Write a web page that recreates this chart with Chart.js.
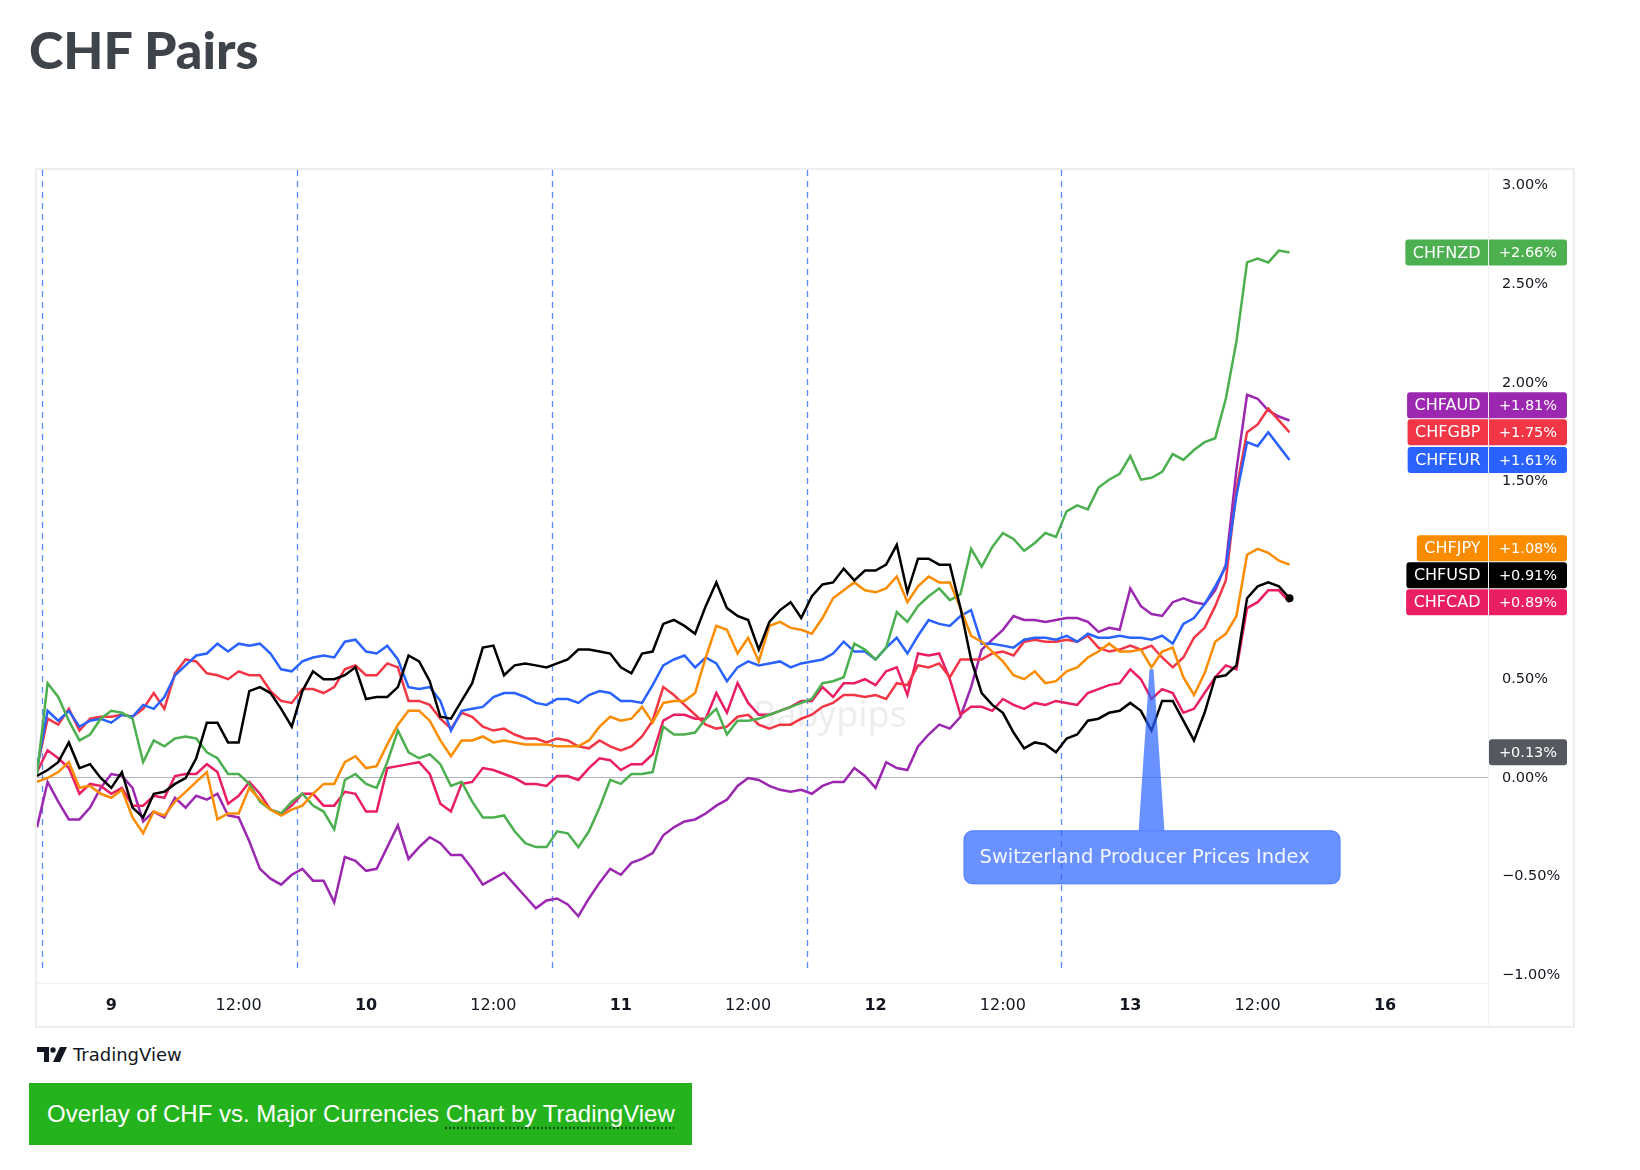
<!DOCTYPE html>
<html lang="en">
<head>
<meta charset="utf-8">
<title>CHF Pairs</title>
<script src="https://cdn.jsdelivr.net/npm/chart.js@4.4.1/dist/chart.umd.min.js"></script>
<style>
    body { margin: 0; background: #fff; }
    h1 {
        position: absolute; left: 29px; top: 23px; margin: 0;
        font: 900 52px/52px Lato, "Noto Sans", sans-serif;
        color: #3f434a;
    }
    #frame {
        position: absolute; left: 35px; top: 168px;
        width: 1536px; height: 856px;
        border: 2px solid #eceef2;
    }
    #wrap { position: absolute; left: 37px; top: 170px; width: 1534px; height: 856px; }
    #tv {
        position: absolute; left: 37px; top: 1044px; height: 20px;
        font: 18px "DejaVu Sans", sans-serif; color: #131722;
        display: flex; align-items: center;
    }
    #tv svg { margin-right: 6px; }
    #link {
        position: absolute; left: 29px; top: 1083px; width: 645px; height: 62px;
        padding-left: 18px; background: #25b31d; color: #fff;
        font: 24px/62px "Liberation Sans", Arial, sans-serif;
    }
    #link span { text-decoration: underline dotted rgba(0,0,0,0.55); text-underline-offset: 5px; }
</style>
</head>
<body>

<h1>CHF Pairs</h1>
<div id="frame"></div>
<div id="wrap"><canvas id="chartchf"></canvas></div>
<div id="tv">
    <svg width="30" height="15" viewBox="0 0 30 15">
        <path d="M0 0H12V15H7V5H0Z" fill="#131722"/>
        <circle cx="16" cy="3" r="2.7" fill="#131722"/>
        <path d="M23 0H30L23 15H16Z" fill="#131722"/>
    </svg>
    <span>TradingView</span>
</div>
<div id="link">Overlay of CHF vs. Major Currencies <span>Chart by TradingView</span></div>

<script>
// DATOS - % change per hourly bar (bar 0 = start of chart)

const chfNzd = [0.02,
    0.48, 0.41, 0.29, 0.19, 0.22, 0.30, 0.34, 0.33, 0.30, 0.08, 0.19, 0.16, 0.20, 0.21, 0.20, 0.13,
    0.10, 0.02, 0.02, -0.03, -0.12, -0.16, -0.18, -0.12, -0.08, -0.14, -0.17, -0.26, -0.01, 0.02,
    -0.03, -0.05, 0.08, 0.24, 0.13, 0.10, 0.12, 0.07, -0.04, -0.02, -0.12, -0.20, -0.20, -0.19,
    -0.27, -0.33, -0.35, -0.35, -0.27,
    -0.28, -0.35, -0.27, -0.15, -0.01, -0.03, 0.02, 0.02, 0.03, 0.26, 0.22, 0.22, 0.23, 0.30, 0.35,
    0.22, 0.29, 0.29, 0.30, 0.32, 0.34, 0.36, 0.38, 0.40, 0.48, 0.49, 0.51, 0.68, 0.65, 0.60,
    0.66, 0.84, 0.79, 0.87, 0.92, 0.96, 0.90, 0.93, 1.16, 1.07, 1.17, 1.24, 1.21, 1.15, 1.19, 1.24,
    1.22, 1.35, 1.38, 1.36,
    1.47, 1.51, 1.54, 1.63, 1.51, 1.52, 1.55, 1.64, 1.61, 1.66, 1.70, 1.72, 1.92, 2.21, 2.61, 2.63,
    2.61, 2.67, 2.66];

const chfAud = [-0.25,
    -0.02, -0.12, -0.21, -0.21, -0.15, -0.05, 0.02, 0.01, -0.05, -0.22, -0.17, -0.20, -0.10, -0.15,
    -0.09, -0.11, -0.08, -0.19, -0.20, -0.32, -0.46, -0.51, -0.54, -0.49, -0.46, -0.52, -0.52, -0.63,
    -0.40, -0.42, -0.47, -0.46, -0.35, -0.24, -0.41, -0.35, -0.30, -0.33, -0.39, -0.39, -0.46, -0.54,
    -0.51, -0.48, -0.54, -0.60,
    -0.66, -0.62, -0.61, -0.64, -0.70, -0.61, -0.53, -0.46, -0.49, -0.43, -0.41, -0.38, -0.29, -0.25,
    -0.22, -0.21, -0.18, -0.14, -0.11, -0.04, 0.00, -0.01, -0.04, -0.06, -0.07, -0.06, -0.08, -0.04,
    -0.02, -0.02, 0.05, 0.01, -0.05,
    0.08, 0.05, 0.04, 0.16, 0.22, 0.27, 0.25, 0.31, 0.46, 0.65, 0.70, 0.75, 0.82, 0.80, 0.80, 0.79,
    0.80, 0.81, 0.81, 0.79, 0.74, 0.76,
    0.75, 0.96, 0.87, 0.83, 0.82, 0.89, 0.91, 0.89, 0.88, 0.95, 1.08,
    1.56, 1.94, 1.92, 1.86, 1.83, 1.81];

const chfGbp = [0.05,
    0.30, 0.27, 0.35, 0.24, 0.30, 0.31, 0.31, 0.32, 0.31, 0.35, 0.43, 0.35, 0.53, 0.60, 0.59, 0.53,
    0.52, 0.50, 0.54, 0.52, 0.52, 0.44, 0.39, 0.38, 0.45, 0.45, 0.43, 0.46, 0.55, 0.57, 0.52, 0.52,
    0.58, 0.56, 0.39, 0.39, 0.37, 0.30, 0.25, 0.33, 0.31, 0.26, 0.24, 0.25, 0.22, 0.20,
    0.20, 0.18, 0.20,
    0.19, 0.16, 0.15, 0.19, 0.16, 0.14, 0.16, 0.21, 0.29, 0.46, 0.42, 0.37, 0.32, 0.27, 0.25, 0.26,
    0.31, 0.32, 0.27, 0.25, 0.27, 0.27, 0.30, 0.32, 0.36, 0.38, 0.42, 0.42, 0.41, 0.42,
    0.40, 0.48, 0.47, 0.57, 0.56, 0.58, 0.51, 0.60, 0.60, 0.60, 0.63, 0.64, 0.62, 0.69, 0.70, 0.69,
    0.69, 0.70, 0.69, 0.72, 0.66, 0.64,
    0.65, 0.67, 0.65, 0.67, 0.61, 0.56, 0.61, 0.71, 0.76, 0.87, 1.00,
    1.46, 1.75, 1.79, 1.87, 1.81, 1.75];

const chfEur = [0.05,
    0.34, 0.29, 0.34, 0.26, 0.29, 0.30, 0.28, 0.32, 0.31, 0.37, 0.35, 0.41, 0.52, 0.57, 0.62, 0.63,
    0.68, 0.64, 0.68, 0.67, 0.68, 0.63, 0.55, 0.54, 0.59, 0.61, 0.62, 0.61, 0.69, 0.70, 0.64, 0.63,
    0.67, 0.60, 0.46, 0.45, 0.46, 0.39, 0.24, 0.34, 0.35, 0.36, 0.41, 0.43, 0.43, 0.41,
    0.38, 0.37, 0.40, 0.40, 0.38, 0.42, 0.44, 0.43, 0.39, 0.39, 0.38, 0.47, 0.57, 0.60, 0.62, 0.56,
    0.61, 0.58, 0.49, 0.56, 0.59, 0.57, 0.58, 0.59, 0.56, 0.58, 0.59, 0.60, 0.63, 0.69, 0.64, 0.64,
    0.60,
    0.66, 0.71, 0.63, 0.72, 0.80, 0.78, 0.77, 0.82, 0.85, 0.68, 0.68, 0.67, 0.66, 0.70, 0.71, 0.71,
    0.70, 0.72, 0.69, 0.73, 0.71, 0.71, 0.72, 0.71,
    0.71, 0.70, 0.72, 0.68, 0.78, 0.81, 0.88, 0.97, 1.07,
    1.43, 1.70, 1.68, 1.75, 1.68, 1.61];

const chfJpy = [-0.02,
    0.00, 0.03, 0.08, -0.05, -0.04, -0.08, -0.10, -0.06, -0.20, -0.28, -0.17, -0.19, -0.12, -0.07,
    -0.02, 0.03, -0.21, -0.18, -0.18, -0.05, -0.11, -0.16, -0.19, -0.16, -0.14, -0.08, -0.03, -0.03,
    0.08, 0.11, 0.05, 0.06, 0.17, 0.27, 0.34, 0.34, 0.29, 0.19, 0.11, 0.19, 0.19, 0.21, 0.18, 0.19,
    0.18, 0.17,
    0.17, 0.17, 0.16,
    0.16, 0.16, 0.19, 0.26, 0.31, 0.29, 0.30, 0.36, 0.28, 0.38, 0.39, 0.39, 0.43, 0.61, 0.77, 0.75,
    0.63, 0.71, 0.59, 0.77, 0.79, 0.76, 0.75, 0.73, 0.81, 0.91, 0.95, 0.99, 0.95, 0.94,
    0.96, 1.02, 0.89, 0.97, 1.02, 0.99, 0.99, 0.86, 0.72, 0.69, 0.64, 0.59, 0.52, 0.50, 0.54, 0.48,
    0.49, 0.54, 0.56, 0.61, 0.64, 0.68,
    0.64, 0.64, 0.65, 0.56, 0.64, 0.66, 0.51, 0.42, 0.53, 0.69, 0.73, 0.82, 1.13, 1.16, 1.14, 1.10,
    1.08];

const chfUsd = [0.01,
    0.04, 0.08, 0.18, 0.05, 0.07, 0.00, -0.05, 0.03, -0.15, -0.20, -0.08, -0.07, -0.03, 0.00, 0.10,
    0.28, 0.28, 0.18, 0.18, 0.44, 0.46, 0.43, 0.35, 0.26, 0.44, 0.54, 0.50, 0.50, 0.52, 0.56, 0.40,
    0.41, 0.41, 0.46, 0.62, 0.59, 0.49, 0.31, 0.30, 0.39, 0.48, 0.66, 0.67, 0.52, 0.57, 0.58,
    0.57, 0.56, 0.58,
    0.60, 0.65, 0.65, 0.64, 0.63, 0.56, 0.53, 0.63, 0.64, 0.78, 0.80, 0.77, 0.73, 0.87, 0.99, 0.86,
    0.82, 0.80, 0.65, 0.79, 0.85, 0.89, 0.81, 0.92, 0.98, 0.99, 1.06, 1.00, 1.05, 1.05,
    1.08, 1.18, 0.94, 1.11, 1.11, 1.08, 1.08, 0.86, 0.60, 0.43, 0.37, 0.33, 0.23, 0.15, 0.18, 0.17,
    0.13, 0.20, 0.22, 0.29, 0.30, 0.33,
    0.34, 0.38, 0.34, 0.24, 0.39, 0.39, 0.29, 0.19, 0.33, 0.51, 0.52, 0.57, 0.91, 0.97, 0.99, 0.97,
    0.91];

const chfCad = [0.03,
    0.14, 0.10, 0.05, -0.08, -0.03, -0.04, -0.08, -0.05, -0.14, -0.14, -0.09, -0.10, 0.01, 0.02, 0.02,
    0.07, 0.03, -0.13, -0.09, -0.02, -0.08, -0.16, -0.18, -0.14, -0.08, -0.08, -0.14, -0.14, -0.07,
    -0.08, -0.17, -0.17, 0.05, 0.06, 0.07, 0.08, 0.02, -0.13, -0.17, -0.03, -0.02, 0.05, 0.04, 0.02,
    0.00, -0.03,
    -0.03, -0.04, 0.01,
    0.01, -0.01, 0.05, 0.10, 0.09, 0.04, 0.07, 0.07, 0.12, 0.29, 0.32, 0.32, 0.30, 0.30, 0.43, 0.33,
    0.48, 0.38, 0.32, 0.32, 0.34, 0.36, 0.39, 0.39, 0.46, 0.41, 0.48, 0.48, 0.50, 0.47,
    0.54, 0.56, 0.42, 0.63, 0.62, 0.63, 0.50, 0.32, 0.36, 0.36, 0.34, 0.40, 0.37, 0.35, 0.38, 0.37,
    0.39, 0.38, 0.37, 0.43, 0.45, 0.47,
    0.48, 0.55, 0.50, 0.40, 0.45, 0.43, 0.33, 0.35, 0.43, 0.51, 0.57, 0.55, 0.86, 0.89, 0.95, 0.95,
    0.89];

// time axis (bar index of each label) and price axis ticks
const tickBars = [7, 19, 31, 43, 55, 67, 79, 91, 103, 115, 127];
const tickLabels = ['9', '12:00', '10', '12:00', '11', '12:00', '12', '12:00', '13', '12:00', '16'];
const yTicks = [-1, -0.5, 0, 0.5, 1, 1.5, 2, 2.5, 3];

const sessionBreaks = [0.5, 24.5, 48.5, 72.5, 96.5];
const markerValue = 0.13;

const eventName = 'Switzerland Producer Prices Index';
const eventBar = 105;
const eventValue = 0.55;


// SERIES

const series = [
    { name: 'CHFUSD', color: '#000000', data: chfUsd },
    { name: 'CHFJPY', color: '#fb8c00', data: chfJpy },
    { name: 'CHFNZD', color: '#4caf50', data: chfNzd },
    { name: 'CHFEUR', color: '#2962ff', data: chfEur },
    { name: 'CHFGBP', color: '#f23645', data: chfGbp },
    { name: 'CHFCAD', color: '#e91e63', data: chfCad },
    { name: 'CHFAUD', color: '#9c27b0', data: chfAud }
];

function pct(v) {
    return (v < 0 ? '\u2212' : '') + Math.abs(v).toFixed(2) + '%';
}

function signed(v) {
    return (v < 0 ? '\u2212' : '+') + Math.abs(v).toFixed(2) + '%';
}


// EXTRAS - watermark, session lines, event note, price labels

const extras = {
    id: 'extras',
    beforeDatasetsDraw(chart) {
        const { ctx, chartArea, scales: { x, y } } = chart;
        ctx.save();
        ctx.font = '36px "Noto Sans"';
        ctx.fillStyle = 'rgba(0, 0, 0, 0.07)';
        ctx.textAlign = 'center';
        ctx.textBaseline = 'middle';
        ctx.fillText('Babypips', x.getPixelForValue(74.7), y.getPixelForValue(0.31));

        ctx.strokeStyle = 'rgba(41, 98, 255, 0.75)';
        ctx.lineWidth = 1.3;
        ctx.setLineDash([6, 5]);
        sessionBreaks.forEach(b => {
            const px = Math.round(x.getPixelForValue(b)) + 0.5;
            ctx.beginPath();
            ctx.moveTo(px, chartArea.top);
            ctx.lineTo(px, chartArea.bottom - 10);
            ctx.stroke();
        });
        ctx.restore();
    },
    afterDatasetsDraw(chart) {
        const { ctx, scales: { x, y } } = chart;
        const tx = x.getPixelForValue(eventBar);
        const ty = y.getPixelForValue(eventValue);
        const top = ty + 161, w = 377, h = 54, left = tx - 188;

        ctx.save();
        ctx.beginPath();
        ctx.moveTo(tx - 2, ty);
        ctx.lineTo(tx + 2, ty);
        ctx.lineTo(tx + 13, top + 2);
        ctx.lineTo(tx - 13, top + 2);
        ctx.closePath();
        ctx.roundRect(left, top, w, h, 9);
        ctx.fillStyle = 'rgba(41, 98, 255, 0.7)';
        ctx.fill();
        ctx.beginPath();
        ctx.roundRect(left + 0.5, top + 0.5, w - 1, h - 1, 9);
        ctx.strokeStyle = 'rgba(41, 98, 255, 0.35)';
        ctx.stroke();

        ctx.font = '19.5px "DejaVu Sans"';
        ctx.fillStyle = 'rgba(255, 255, 255, 0.92)';
        ctx.textBaseline = 'middle';
        ctx.fillText(eventName, left + 16, top + h / 2 + 1);
        ctx.restore();
    },
    afterDraw(chart) {
        const { ctx, chartArea, scales: { y } } = chart;
        const axisX = chartArea.right;

        ctx.save();
        ctx.fillStyle = '#eef0f4';
        ctx.fillRect(axisX, 0, 1, chart.height);
        ctx.fillRect(0, chartArea.bottom, axisX, 1);

        // stack the last-value labels so they do not overlap
        const items = series.map(s => {
            const last = s.data[s.data.length - 1];
            return { name: s.name, color: s.color, value: last, py: y.getPixelForValue(last) };
        });
        items.sort((a, b) => b.py - a.py);
        let prev = Infinity;
        items.forEach(it => {
            it.ly = Math.min(it.py, prev - 27);
            prev = it.ly;
        });

        ctx.textBaseline = 'middle';
        ctx.textAlign = 'center';
        items.forEach(it => {
            ctx.font = '16px "DejaVu Sans"';
            const tw = ctx.measureText(it.name).width + 15;
            ctx.fillStyle = it.color;
            ctx.beginPath();
            ctx.roundRect(axisX - tw, it.ly - 13, tw, 26, [3, 0, 0, 3]);
            ctx.fill();
            ctx.beginPath();
            ctx.roundRect(axisX + 1, it.ly - 13, 78, 26, [0, 3, 3, 0]);
            ctx.fill();
            ctx.fillStyle = '#ffffff';
            ctx.fillText(it.name, axisX - tw / 2, it.ly + 1);
            ctx.font = '14.5px "DejaVu Sans"';
            ctx.fillText(signed(it.value), axisX + 40, it.ly + 1);
        });

        const my = y.getPixelForValue(markerValue);
        ctx.fillStyle = '#55585f';
        ctx.beginPath();
        ctx.roundRect(axisX + 1, my - 13, 78, 26, 3);
        ctx.fill();
        ctx.fillStyle = '#ffffff';
        ctx.font = '14.5px "DejaVu Sans"';
        ctx.fillText(signed(markerValue), axisX + 40, my + 1);
        ctx.restore();
    }
};


// GRAFICO

document.addEventListener("DOMContentLoaded", () => {

    const ctxChf = document.getElementById('chartchf').getContext('2d');

    new Chart(ctxChf, {
        type: 'line',
        data: {
            datasets: series.map(s => ({
                label: s.name,
                data: s.data.map((v, i) => ({ x: i, y: v })),
                borderColor: s.color,
                backgroundColor: s.color,
                borderWidth: 2.5,
                tension: 0,
                pointRadius: c => (s.name === 'CHFUSD' && c.dataIndex === s.data.length - 1) ? 4 : 0,
                pointBorderWidth: 0
            }))
        },
        options: {
            responsive: true,
            maintainAspectRatio: false,
            animation: false,
            layout: { padding: 0, autoPadding: false },
            plugins: {
                legend: { display: false },
                tooltip: { enabled: false }
            },
            scales: {
                x: {
                    type: 'linear',
                    min: 0,
                    max: 136.7,
                    grid: { display: false, drawTicks: false },
                    border: { display: false },
                    afterBuildTicks: scale => { scale.ticks = tickBars.map(v => ({ value: v })); },
                    afterFit: scale => { scale.height = 43; scale.paddingLeft = 0; scale.paddingRight = 0; },
                    ticks: {
                        autoSkip: false,
                        maxRotation: 0,
                        padding: 13,
                        color: '#131722',
                        font: c => ({
                            family: 'DejaVu Sans',
                            size: 16,
                            weight: (tickLabels[c.index] || '').includes(':') ? 'normal' : 'bold'
                        }),
                        callback: (value, index) => tickLabels[index]
                    }
                },
                y: {
                    position: 'right',
                    min: -1.038,
                    max: 3.078,
                    grid: {
                        drawTicks: false,
                        color: c => c.tick && c.tick.value === 0 ? '#b2b5be' : 'transparent',
                        lineWidth: 1
                    },
                    border: { display: false },
                    afterBuildTicks: scale => { scale.ticks = yTicks.map(v => ({ value: v })); },
                    afterFit: scale => { scale.width = 83; scale.paddingTop = 0; scale.paddingBottom = 0; },
                    ticks: {
                        padding: 14,
                        color: '#131722',
                        font: { family: 'DejaVu Sans', size: 14.5 },
                        callback: v => pct(v)
                    }
                }
            }
        },
        plugins: [extras]
    });
});
</script>
</body>
</html>
